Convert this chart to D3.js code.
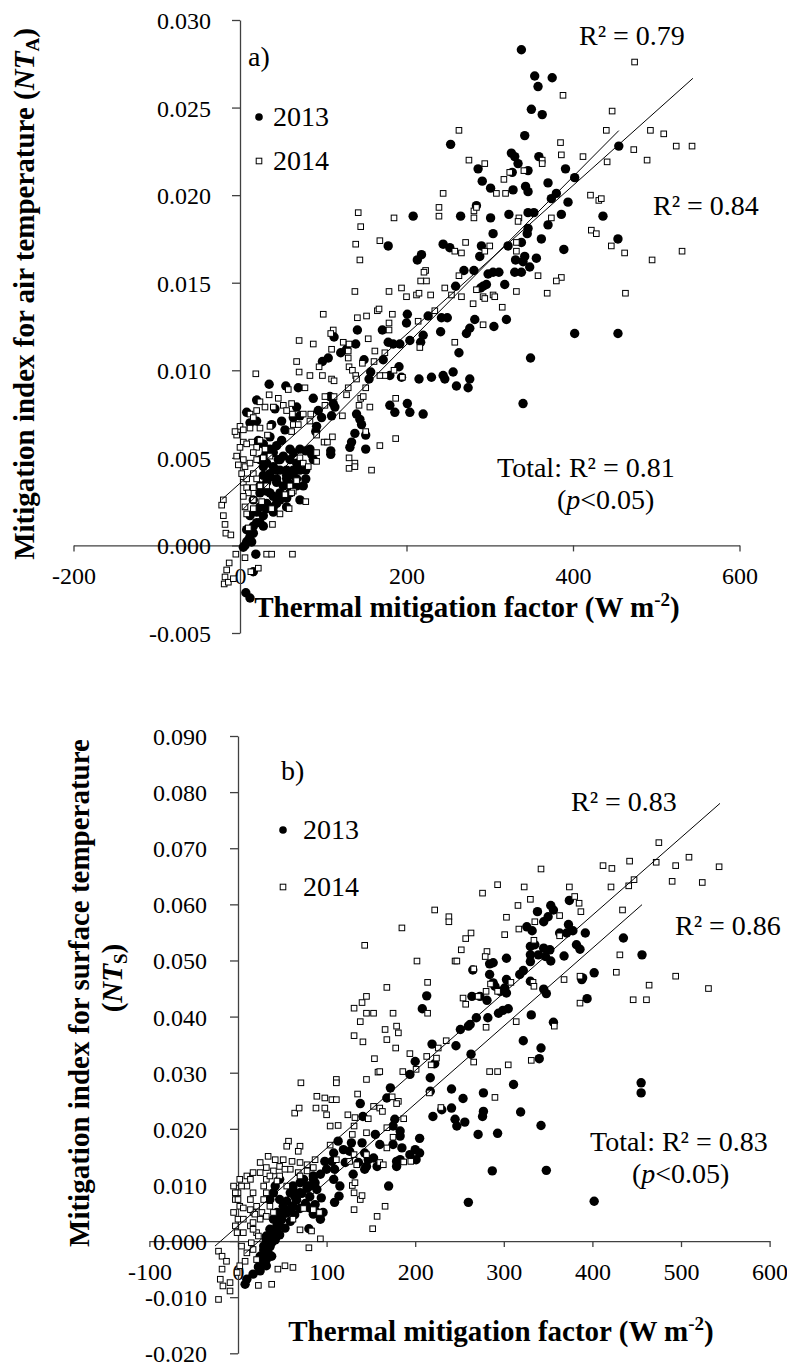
<!DOCTYPE html>
<html><head><meta charset="utf-8">
<script src="https://cdn.jsdelivr.net/npm/d3@7"></script>
<style>html,body{margin:0;padding:0;background:#fff;} svg{display:block;}</style>
</head><body>
<svg id="chart" width="787" height="1369"></svg>
<script>
// ---------------- DATA ----------------
// Panel a: air temperature index (NT_A) vs thermal mitigation factor
const airXTicks = [-200, 0, 200, 400, 600];
const airYTicks = [-0.005, 0, 0.005, 0.010, 0.015, 0.020, 0.025, 0.030];
const air2013 = [
[338,0.0283],[354,0.0268],[375,0.0267],[358,0.0262],[350,0.0249],[363,0.0246],[342,0.0234],[253,0.0229],[455,0.0228],
[326,0.0224],[330,0.0222],[334,0.0218],[327,0.0213],[359,0.0222],[286,0.0215],[346,0.0214],[391,0.0215],[402,0.0210],
[291,0.0208],[301,0.0204],[328,0.0203],[343,0.0205],[346,0.0202],[370,0.0207],[380,0.0201],[374,0.0198],[394,0.0196],
[208,0.0188],[265,0.0188],[284,0.0194],[301,0.0187],[323,0.0189],[346,0.0190],[353,0.0190],[386,0.0189],[436,0.0188],
[346,0.0181],[370,0.0183],[304,0.0178],[345,0.0178],[362,0.0175],[454,0.0175],[178,0.0171],[244,0.0172],[252,0.0170],
[290,0.0171],[288,0.0165],[322,0.0171],[338,0.0173],[389,0.0169],[218,0.0166],[213,0.0163],[331,0.0163],[342,0.0165],
[340,0.0162],[356,0.0164],[269,0.0157],[281,0.0157],[304,0.0156],[298,0.0155],[311,0.0156],[330,0.0156],[338,0.0156],
[348,0.0159],[259,0.0148],[292,0.0148],[296,0.0149],[318,0.0149],[289,0.0147],[201,0.0132],[200,0.0127],[171,0.0123],
[226,0.0131],[242,0.0130],[249,0.0130],[282,0.0129],[305,0.0125],[320,0.0129],[241,0.0122],[276,0.0124],[272,0.0121],
[220,0.0120],[204,0.0117],[178,0.0116],[184,0.0115],[217,0.0116],[402,0.0121],[454,0.0121],[263,0.0110],[172,0.0106],
[349,0.0107],[180,0.0097],[194,0.0096],[215,0.0095],[230,0.0096],[244,0.0097],[246,0.0095],[256,0.0099],[260,0.0091],
[276,0.0095],[274,0.0090],[180,0.0080],[186,0.0076],[201,0.0081],[204,0.0076],[220,0.0075],[340,0.0081],[141,0.0123],
[192,0.0115],[139,0.0115],[113,0.0119],[121,0.0110],[128,0.0112],[99,0.0105],[106,0.0107],[149,0.0106],[157,0.0099],
[155,0.0095],[191,0.0102],[88,0.0084],[94,0.0077],[98,0.0073],[110,0.0074],[35,0.0092],[55,0.0091],[70,0.0090],
[140,0.0075],[144,0.0072],[146,0.0069],[138,0.0064],[134,0.0059],[132,0.0056],[151,0.0063],[151,0.0055],[109,0.0054],
[109,0.0052],[84,0.0055],[79,0.0054],[8,0.0076],[20,0.0083],[79,0.0043],[19,-0.0005],[7,-0.0027],[12,-0.0030],
[108,0.0085],[112,0.0081],[114,0.0079],[92,0.0068],[91,0.0065],[86,0.0052],[88,0.0049],[42,0.0078],[50,0.0071],
[38,0.0069],[68,0.0079],[72,0.0074],[64,0.0073],[54,0.0066],[50,0.0060],[60,0.0055],[44,0.0057],[36,0.0062],[36,0.0055],
[28,0.0045],[36,0.0041],[44,0.0043],[56,0.0043],[64,0.0043],[32,0.0036],[44,0.0038],[56,0.0038],[68,0.0038],[24,0.0030],
[36,0.0030],[48,0.0030],[60,0.0030],[32,0.0024],[44,0.0024],[56,0.0022],[20,0.0019],[28,0.0017],[40,0.0019],[16,0.0011],
[24,0.0013],[12,0.0005],[16,0.0007],[8,0.0002],[4,-0.0001],[10,0.0003],[46,0.0049],[60,0.0049],[68,0.0047],[16,-0.0015],
[20,0.0071],[12,0.0070],[72,0.0043],[52,0.0051],[79,0.0038],[28,0.0058],[72,0.0026],[76,0.0034],[22,0.0060],[31,0.0052],
[24,0.0049],[32,0.0047],[40,0.0045],[48,0.0043],[56,0.0040],[64,0.0040],[28,0.0040],[36,0.0039],[44,0.0036],[52,0.0034],
[60,0.0035],[68,0.0034],[24,0.0034],[32,0.0031],[40,0.0028],[48,0.0026],[56,0.0027],[16,0.0026],[24,0.0022],[32,0.0021],
[40,0.0022],[12,0.0017],[20,0.0013],[28,0.0011],[8,0.0009],[14,0.0002],[6,0.0000],[48,0.0049],[64,0.0053],[72,0.0055],
[40,0.0053],[32,0.0055]
];
const air2014 = [
[474,0.0276],[388,0.0257],[447,0.0248],[263,0.0237],[440,0.0237],[493,0.0237],[509,0.0235],[385,0.0230],[524,0.0228],
[543,0.0228],[386,0.0223],[412,0.0222],[473,0.0226],[275,0.0220],[294,0.0218],[363,0.0220],[363,0.0218],[441,0.0219],
[489,0.0220],[341,0.0214],[324,0.0213],[317,0.0209],[308,0.0201],[319,0.0201],[244,0.0201],[421,0.0200],[431,0.0197],
[434,0.0198],[185,0.0187],[239,0.0193],[239,0.0188],[281,0.0191],[284,0.0193],[281,0.0187],[335,0.0187],[334,0.0185],
[374,0.0187],[422,0.0180],[428,0.0178],[168,0.0174],[271,0.0173],[300,0.0171],[294,0.0168],[258,0.0168],[266,0.0167],
[332,0.0173],[332,0.0168],[446,0.0171],[462,0.0167],[495,0.0163],[531,0.0168],[223,0.0157],[221,0.0156],[217,0.0151],
[224,0.0151],[263,0.0154],[358,0.0154],[386,0.0153],[380,0.0151],[179,0.0145],[194,0.0147],[200,0.0142],[212,0.0143],
[215,0.0144],[229,0.0143],[246,0.0147],[332,0.0145],[369,0.0144],[463,0.0144],[284,0.0146],[304,0.0143],[306,0.0142],
[292,0.0142],[142,0.0190],[145,0.0182],[139,0.0172],[144,0.0163],[138,0.0145],[254,0.0143],[266,0.0142],[294,0.0141],
[280,0.0138],[315,0.0136],[183,0.0132],[179,0.0127],[179,0.0123],[214,0.0128],[234,0.0134],[292,0.0126],[258,0.0116],
[216,0.0113],[174,0.0110],[174,0.0097],[185,0.0100],[195,0.0096],[187,0.0084],[187,0.0061],[168,0.0057],[165,0.0134],
[167,0.0135],[152,0.0131],[141,0.0130],[100,0.0132],[112,0.0123],[109,0.0121],[124,0.0116],[131,0.0115],[71,0.0117],
[88,0.0115],[154,0.0118],[110,0.0112],[130,0.0111],[130,0.0107],[131,0.0102],[162,0.0111],[68,0.0105],[71,0.0099],
[95,0.0102],[99,0.0097],[19,0.0098],[135,0.0100],[139,0.0097],[161,0.0105],[147,0.0104],[168,0.0097],[84,0.0097],
[110,0.0095],[113,0.0094],[140,0.0095],[151,0.0090],[130,0.0090],[128,0.0086],[145,0.0084],[143,0.0080],[156,0.0079],
[102,0.0085],[113,0.0085],[151,0.0065],[111,0.0062],[101,0.0059],[105,0.0059],[131,0.0050],[138,0.0047],[131,0.0044],
[138,0.0045],[158,0.0043],[92,0.0053],[79,0.0025],[63,-0.0005],[32,-0.0005],[38,-0.0005],[6,-0.0007],[-5,-0.0005],
[22,-0.0013],[35,0.0086],[46,0.0084],[58,0.0089],[78,0.0090],[24,0.0082],[30,0.0079],[40,0.0079],[52,0.0080],[62,0.0081],
[56,0.0077],[63,0.0075],[76,0.0075],[85,0.0075],[20,0.0077],[12,0.0075],[16,0.0073],[102,0.0080],[123,0.0074],[148,0.0085],
[0,0.0068],[4,0.0066],[-4,0.0063],[-6,0.0065],[12,0.0067],[24,0.0067],[36,0.0068],[33,0.0063],[62,0.0065],[64,0.0069],
[70,0.0069],[84,0.0071],[92,0.0063],[4,0.0059],[14,0.0059],[24,0.0060],[0,0.0056],[8,0.0058],[20,0.0056],[30,0.0055],
[-4,0.0051],[4,0.0049],[-2,0.0046],[6,0.0045],[12,0.0047],[20,0.0049],[28,0.0050],[36,0.0051],[72,0.0050],[76,0.0047],
[82,0.0045],[92,0.0048],[2,0.0041],[4,0.0036],[8,0.0033],[10,0.0030],[16,0.0041],[20,0.0038],[68,0.0037],[60,0.0034],
[64,0.0031],[32,0.0034],[-20,0.0026],[-22,0.0023],[-20,0.0017],[-18,0.0012],[-17,0.0007],[-11,0.0006],[4,0.0028],
[16,0.0033],[6,0.0022],[8,0.0018],[16,0.0021],[26,0.0025],[38,0.0021],[54,0.0029],[62,0.0030],[48,0.0018],[59,0.0021],
[39,0.0012],[10,0.0010],[-13,-0.0010],[-16,-0.0014],[-18,-0.0018],[-19,-0.0022],[-14,-0.0021],[-8,-0.0019],[13,-0.0015],
[16,0.0053],[8,0.0038],[24,0.0034],[16,0.0026]
];
// linear trend lines: [slope, intercept, xStart, xEnd]
const airTrend2013 = [4.79e-5, 0.00189, 4, 455];
const airTrend2014 = [4.25e-5, 0.00355, -22, 544];

// Panel b: surface temperature index (NT_S) vs thermal mitigation factor
const surfXTicks = [-100, 0, 100, 200, 300, 400, 500, 600];
const surfYTicks = [-0.020, -0.010, 0, 0.010, 0.020, 0.030, 0.040, 0.050, 0.060, 0.070, 0.080, 0.090];
const surf2013 = [
[338,0.0587],[353,0.0598],[356,0.0590],[374,0.0607],[326,0.0560],[332,0.0553],[345,0.0569],[350,0.0578],[373,0.0564],
[378,0.0553],[371,0.0549],[392,0.0549],[363,0.0549],[435,0.0540],[330,0.0525],[335,0.0528],[345,0.0522],[352,0.0519],
[330,0.0510],[339,0.0510],[347,0.0507],[382,0.0528],[386,0.0520],[368,0.0508],[353,0.0499],[330,0.0498],[456,0.0510],
[303,0.0504],[288,0.0496],[284,0.0494],[265,0.0483],[322,0.0482],[318,0.0475],[402,0.0478],[389,0.0469],[284,0.0475],
[288,0.0460],[303,0.0466],[330,0.0463],[345,0.0449],[213,0.0437],[208,0.0414],[264,0.0436],[273,0.0436],[281,0.0429],
[290,0.0454],[296,0.0445],[301,0.0451],[303,0.0442],[348,0.0441],[388,0.0466],[394,0.0432],[269,0.0398],[282,0.0398],
[260,0.0383],[251,0.0377],[262,0.0386],[294,0.0406],[299,0.0411],[305,0.0414],[331,0.0403],[356,0.0390],[219,0.0351],
[246,0.0348],[322,0.0357],[342,0.0344],[263,0.0333],[340,0.0325],[222,0.0316],[200,0.0320],[194,0.0297],[217,0.0291],
[172,0.0273],[168,0.0255],[311,0.0279],[241,0.0271],[254,0.0254],[277,0.0264],[217,0.0267],[455,0.0282],[455,0.0264],
[241,0.0237],[230,0.0234],[277,0.0231],[276,0.0222],[220,0.0222],[245,0.0217],[247,0.0205],[256,0.0212],[319,0.0230],
[342,0.0206],[177,0.0217],[175,0.0205],[183,0.0196],[271,0.0190],[293,0.0192],[205,0.0183],[160,0.0172],[175,0.0172],
[185,0.0166],[200,0.0163],[205,0.0157],[201,0.0145],[179,0.0133],[170,0.0098],[287,0.0125],[348,0.0126],[260,0.0069],
[402,0.0071],[141,0.0222],[138,0.0245],[155,0.0190],[157,0.0133],[145,0.0133],[143,0.0128],[179,0.0142],[128,0.0175],
[140,0.0175],[113,0.0178],[121,0.0140],[106,0.0142],[98,0.0142],[100,0.0128],[109,0.0128],[114,0.0080],[109,0.0069],
[94,0.0077],[85,0.0110],[93,0.0119],[81,0.0059],[93,0.0039],[85,0.0048],[80,0.0022],[62,0.0098],[70,0.0104],[59,0.0086],
[64,0.0080],[55,0.0071],[59,0.0056],[51,0.0051],[49,0.0039],[44,0.0027],[44,0.0015],[38,0.0003],[36,-0.0009],[38,-0.0027],
[32,-0.0044],[25,-0.0053],[17,-0.0059],[10,-0.0068],[8,-0.0077],[32,-0.0015],[29,-0.0033],[108,0.0157],[119,0.0163],
[108,0.0110],[115,0.0098],[89,0.0092],[47,0.0110],[42,0.0098],[40,0.0086],[36,0.0074],[126,0.0160],[143,0.0157],
[147,0.0145],[153,0.0148],[183,0.0187],[183,0.0145],[194,0.0154],[136,0.0140],[130,0.0119],[87,0.0065],[89,0.0051],
[96,0.0051],[81,0.0098],[87,0.0104],[85,0.0116],[62,0.0092],[70,0.0086],[66,0.0074],[47,0.0074],[51,0.0062],[44,0.0051],
[40,0.0039],[47,0.0027],[36,0.0021],[32,0.0009],[38,-0.0003],[29,-0.0009],[34,-0.0021],[25,-0.0027],[32,-0.0033],
[44,0.0009],[62,0.0062],[74,0.0110],[78,0.0098],
[32,0.0002],[38,0.0014],[44,0.0026],[49,0.0038],[55,0.0050],[61,0.0061],[66,0.0073],[72,0.0085],[78,0.0094],
[29,-0.0016],[36,-0.0010],[42,0.0002],[47,0.0011],[53,0.0023],[59,0.0035],[64,0.0047],[70,0.0058],[76,0.0067],[81,0.0079],
[25,-0.0034],[32,-0.0028],[23,-0.0046],[30,-0.0040]
];
const surf2014 = [
[475,0.0710],[412,0.0669],[422,0.0664],[442,0.0677],[472,0.0675],[494,0.0669],[509,0.0684],[543,0.0667],[342,0.0663],
[447,0.0644],[441,0.0633],[421,0.0631],[490,0.0641],[524,0.0639],[374,0.0631],[293,0.0635],[323,0.0631],[276,0.0620],
[380,0.0614],[385,0.0602],[387,0.0587],[330,0.0609],[316,0.0598],[434,0.0590],[222,0.0590],[238,0.0578],[238,0.0569],
[303,0.0577],[363,0.0580],[335,0.0569],[185,0.0558],[263,0.0549],[257,0.0539],[301,0.0546],[317,0.0556],[363,0.0544],
[334,0.0536],[252,0.0519],[281,0.0516],[279,0.0507],[431,0.0510],[202,0.0499],[245,0.0499],[247,0.0499],[266,0.0485],
[427,0.0479],[214,0.0461],[285,0.0458],[308,0.0461],[333,0.0461],[368,0.0466],[386,0.0472],[464,0.0456],[494,0.0472],
[531,0.0450],[168,0.0452],[143,0.0527],[131,0.0415],[140,0.0425],[145,0.0436],[138,0.0391],[145,0.0406],[153,0.0406],
[175,0.0406],[131,0.0366],[141,0.0355],[166,0.0377],[168,0.0359],[179,0.0383],[181,0.0371],[178,0.0344],[154,0.0325],
[158,0.0301],[145,0.0288],[71,0.0282],[111,0.0288],[111,0.0282],[135,0.0262],[89,0.0258],[98,0.0255],[106,0.0252],
[88,0.0237],[98,0.0237],[100,0.0225],[111,0.0252],[64,0.0228],[69,0.0237],[124,0.0225],[132,0.0220],[160,0.0237],
[163,0.0231],[104,0.0205],[113,0.0206],[131,0.0205],[147,0.0218],[145,0.0193],[129,0.0190],[168,0.0202],[181,0.0249],
[57,0.0178],[55,0.0169],[70,0.0169],[68,0.0160],[104,0.0171],[111,0.0145],[126,0.0142],[134,0.0136],[160,0.0140],
[145,0.0154],[168,0.0166],[34,0.0151],[42,0.0145],[51,0.0145],[61,0.0142],[70,0.0140],[78,0.0136],[87,0.0145],
[25,0.0140],[32,0.0131],[40,0.0125],[47,0.0133],[59,0.0128],[68,0.0122],[78,0.0125],[85,0.0131],[129,0.0099],
[164,0.0136],[131,0.0086],[138,0.0074],[131,0.0056],[157,0.0044],[166,0.0062],[152,0.0022],[74,0.0058],[85,0.0056],
[92,0.0051],[62,0.0039],[70,0.0020],[83,0.0018],[93,0.0004],[80,-0.0012],[45,-0.0050],[53,-0.0044],[62,-0.0047],
[23,-0.0079],[38,-0.0077],[-5,0.0098],[0,0.0086],[-3,0.0074],[2,0.0062],[-5,0.0051],[0,0.0039],[-3,0.0027],[6,0.0015],
[10,0.0098],[17,0.0086],[14,0.0074],[21,0.0062],[17,0.0051],[25,0.0039],[14,0.0027],[21,0.0015],[29,0.0098],[32,0.0110],
[25,0.0122],[17,0.0122],[10,0.0116],[2,0.0110],[32,0.0086],[29,0.0074],[36,0.0062],[40,0.0051],[-22,-0.0018],
[-18,-0.0027],[-13,-0.0036],[-18,-0.0050],[-20,-0.0068],[-17,-0.0080],[-9,-0.0089],[-22,-0.0104],[-9,-0.0074],
[-1,-0.0056],[2,-0.0044],[8,-0.0036],[10,-0.0021],[17,-0.0015],[21,-0.0033],[214,0.0406],[254,0.0433],[257,0.0422],
[271,0.0436],[280,0.0445],[293,0.0445],[334,0.0454],[386,0.0424],[446,0.0430],[461,0.0430],[280,0.0381],[314,0.0391],
[357,0.0383],[194,0.0334],[213,0.0329],[226,0.0344],[224,0.0326],[218,0.0314],[235,0.0357],[201,0.0306],[186,0.0302],
[160,0.0302],[266,0.0319],[305,0.0314],[284,0.0302],[293,0.0302],[331,0.0322],[216,0.0264],[174,0.0257],[179,0.0245],
[229,0.0238],[290,0.0256],[187,0.0218],[175,0.0185],[187,0.0141],[195,0.0142],[153,0.0240],[131,0.0154],[132,0.0104],
[140,0.0081],[36,0.0116],[14,0.0110],[4,0.0098],[-3,0.0086],[0,0.0074],[6,0.0059],[14,0.0056],[19,0.0048],[17,0.0033],
[6,0.0039],[-1,0.0015],[17,0.0021],[23,0.0009],[15,-0.0003],[4,-0.0009],[27,0.0051],[32,0.0044],[53,0.0128],[47,0.0116],
[70,0.0116],[55,0.0098],[44,0.0107]
];
const surfTrend2013 = [1.387e-4, -0.0033, 8, 456];
const surfTrend2014 = [1.384e-4, 0.0027, -26, 544];

const seriesNames = ["2013", "2014"];
const airLabels = { panel: "a)", r2013: "R\u00B2 = 0.79", r2014: "R\u00B2 = 0.84", total: "Total: R\u00B2 = 0.81" };
const surfLabels = { panel: "b)", r2013: "R\u00B2 = 0.83", r2014: "R\u00B2 = 0.86", total: "Total: R\u00B2 = 0.83" };

// ---------------- DRAWING ----------------
const FONT = "'Liberation Serif','Times New Roman',Times,serif";
const svg = d3.select("#chart");
svg.append("rect").attr("width", 787).attr("height", 1369).attr("fill", "#fff");

const AXIS_COLOR = "#404040";
const CIRCLE_R = 4.7, SQ = 5.6, TITLE = 29;

function txt(g, x, y, size, s, opts = {}) {
  return g.append("text").attr("x", x).attr("y", y)
    .attr("font-family", FONT).attr("font-size", size)
    .attr("font-weight", opts.bold ? "bold" : "normal")
    .attr("text-anchor", opts.anchor || "start").attr("fill", "#000").text(s);
}

function drawPanel(cfg) {
  const g = svg.append("g");
  const x = d3.scaleLinear().domain(cfg.xDomain).range(cfg.xRange);
  const y = d3.scaleLinear().domain(cfg.yDomain).range(cfg.yRange);
  const fmtY = v => v.toFixed(3).replace("\u2212", "-");
  const fmtX = v => String(v);

  const xa = g.append("g").attr("transform", `translate(0,${y(0)})`)
    .call(d3.axisBottom(x).tickValues(cfg.xTicks).tickSize(6).tickSizeOuter(0).tickFormat(fmtX));
  const ya = g.append("g").attr("transform", `translate(${x(0)},0)`)
    .call(d3.axisLeft(y).tickValues(cfg.yTicks).tickSize(8).tickSizeOuter(0).tickFormat(fmtY));
  [xa, ya].forEach(a => {
    a.attr("font-family", FONT).attr("font-size", 24);
    a.selectAll("path.domain").attr("stroke", AXIS_COLOR).attr("stroke-width", 1.3);
    a.selectAll(".tick line").attr("stroke", AXIS_COLOR).attr("stroke-width", 1.3);
    a.selectAll(".tick text").attr("fill", "#000");
  });
  xa.selectAll(".tick text").attr("y", 39).attr("dy", null);
  ya.selectAll(".tick text").attr("x", cfg.yLabelDx).attr("y", 8.5).attr("dy", null);

  g.append("g").selectAll("circle").data(cfg.s2013).join("circle")
    .attr("cx", d => x(d[0])).attr("cy", d => y(d[1])).attr("r", CIRCLE_R).attr("fill", "#000");
  g.append("g").selectAll("rect").data(cfg.s2014).join("rect")
    .attr("x", d => x(d[0]) - SQ / 2).attr("y", d => y(d[1]) - SQ / 2)
    .attr("width", SQ).attr("height", SQ)
    .attr("fill", "#fff").attr("stroke", "#000").attr("stroke-width", 1);

  const line = d3.line().x(d => x(d[0])).y(d => y(d[1]));
  [cfg.t2013, cfg.t2014].forEach(t => {
    const [m, b, x0, x1] = t;
    g.append("path").attr("d", line([[x0, b + m * x0], [x1, b + m * x1]]))
      .attr("fill", "none").attr("stroke", "#000").attr("stroke-width", 1);
  });

  const L = cfg.legend;
  g.append("circle").attr("cx", L.mx).attr("cy", L.y1).attr("r", 3.8).attr("fill", "#000");
  g.append("rect").attr("x", L.mx - SQ / 2).attr("y", L.y2 - SQ / 2).attr("width", SQ).attr("height", SQ)
    .attr("fill", "#fff").attr("stroke", "#000").attr("stroke-width", 1);
  txt(g, L.tx, L.y1 + 9, 28, seriesNames[0]);
  txt(g, L.tx, L.y2 + 9, 28, seriesNames[1]);

  const A = cfg.ann, lab = cfg.labels;
  txt(g, A.panel[0], A.panel[1], 28, lab.panel);
  txt(g, A.r1[0], A.r1[1], 28, lab.r2013);
  txt(g, A.r2[0], A.r2[1], 28, lab.r2014);
  txt(g, A.tot[0], A.tot[1], 28, lab.total);
  const p = txt(g, A.p[0], A.p[1], 28, "(");
  p.append("tspan").attr("font-style", "italic").text("p");
  p.append("tspan").text("<0.05)");

  const xt = txt(g, cfg.xTitle[0], cfg.xTitle[1], TITLE, "Thermal mitigation factor (W m", { bold: true, anchor: "middle" });
  xt.append("tspan").attr("font-size", 19).attr("dy", -11).text("-2");
  xt.append("tspan").attr("dy", 11).text(")");
  return g;
}

drawPanel({
  xDomain: [-200, 600], xRange: [73.5, 739.5],
  yDomain: [-0.005, 0.030], yRange: [633, 20],
  xTicks: airXTicks, yTicks: airYTicks, yLabelDx: -29,
  s2013: air2013, s2014: air2014, t2013: airTrend2013, t2014: airTrend2014,
  legend: { mx: 259, tx: 273, y1: 117, y2: 161 },
  labels: airLabels,
  ann: { panel: [248, 66], r1: [579, 45], r2: [653, 215], tot: [497, 477], p: [557, 509] },
  xTitle: [467, 617]
});

drawPanel({
  xDomain: [-100, 600], xRange: [149.4, 769.6],
  yDomain: [-0.020, 0.090], yRange: [1353.3, 736],
  xTicks: surfXTicks, yTicks: surfYTicks, yLabelDx: -31,
  s2013: surf2013, s2014: surf2014, t2013: surfTrend2013, t2014: surfTrend2014,
  legend: { mx: 283, tx: 303, y1: 830, y2: 887 },
  labels: surfLabels,
  ann: { panel: [281, 780], r1: [571, 811], r2: [675, 935], tot: [590, 1151], p: [632, 1183] },
  xTitle: [501, 1341]
});

const ta = svg.append("text").attr("transform", "translate(34,294) rotate(-90)")
  .attr("text-anchor", "middle").attr("font-family", FONT).attr("font-size", TITLE).attr("font-weight", "bold");
ta.append("tspan").text("Mitigation index for air temperature (");
ta.append("tspan").attr("font-style", "italic").text("NT");
ta.append("tspan").attr("font-size", 19).attr("dy", 5).text("A");
ta.append("tspan").attr("dy", -5).text(")");

svg.append("text").attr("transform", "translate(89,993) rotate(-90)")
  .attr("text-anchor", "middle").attr("font-family", FONT).attr("font-size", TITLE).attr("font-weight", "bold")
  .text("Mitigation index for surface temperature");
const tb = svg.append("text").attr("transform", "translate(122,978) rotate(-90)")
  .attr("text-anchor", "middle").attr("font-family", FONT).attr("font-size", TITLE).attr("font-weight", "bold");
tb.append("tspan").text("(");
tb.append("tspan").attr("font-style", "italic").text("NT");
tb.append("tspan").attr("font-size", 19).attr("dy", 5).text("S");
tb.append("tspan").attr("dy", -5).text(")");
</script>
</body></html>
